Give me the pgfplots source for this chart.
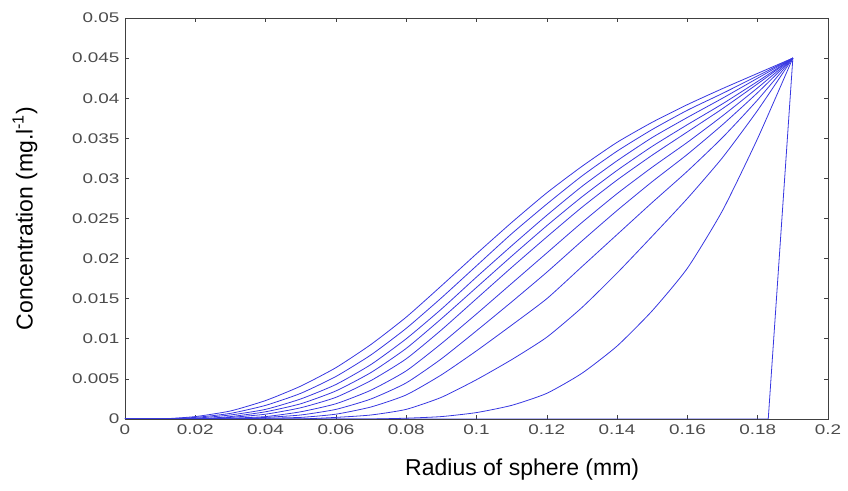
\documentclass[border=0pt]{standalone}
\usepackage{pgfplots}
\usepackage{pgfplotstable}
\pgfplotsset{compat=1.18}
\usepackage{fontspec}
\setmainfont{Liberation Sans}
\newfontfamily\tickfont[FakeStretch=1.35]{Liberation Sans}
\definecolor{lineblue}{RGB}{55,55,225}
\pgfplotstableread{
x c1 c2 c3 c4 c5 c6 c7 c8 c9 c10
0.00 0 0 0 0 0 0 0 0 0 0
0.01 0 0 0 0 0 0 0 0 0 0
0.02 0.0003 0.0002 0.0001 0 0 0 0 0 0 0
0.03 0.0010 0.0007 0.0005 0.0003 0.0002 0.0001 0 0 0 0
0.04 0.0023 0.0017 0.0012 0.0009 0.0006 0.0003 0.0002 0.0001 0 0
0.05 0.0041 0.0032 0.0025 0.0019 0.0014 0.0009 0.0005 0.0002 0 0
0.06 0.0064 0.0053 0.0043 0.0035 0.0027 0.0019 0.0012 0.0006 0.0002 0
0.07 0.0093 0.0080 0.0068 0.0058 0.0048 0.0036 0.0025 0.0015 0.0005 0
0.08 0.0127 0.0113 0.0100 0.0088 0.0075 0.0060 0.0045 0.0030 0.0012 0.0001
0.09 0.0166 0.0151 0.0137 0.0125 0.0111 0.0094 0.0075 0.0055 0.0027 0.0003
0.10 0.0206 0.0191 0.0177 0.0164 0.0150 0.0131 0.0110 0.0085 0.0049 0.0008
0.11 0.0245 0.0231 0.0216 0.0203 0.0189 0.0169 0.0146 0.0117 0.0074 0.0017
0.12 0.0282 0.0268 0.0254 0.0241 0.0227 0.0207 0.0183 0.0150 0.0102 0.0032
0.13 0.0315 0.0303 0.0290 0.0277 0.0264 0.0245 0.0222 0.0190 0.0139 0.0057
0.14 0.0345 0.0334 0.0322 0.0310 0.0298 0.0281 0.0260 0.0230 0.0182 0.0091
0.15 0.0370 0.0361 0.0351 0.0340 0.0329 0.0314 0.0296 0.0270 0.0228 0.0135
0.16 0.0392 0.0385 0.0376 0.0367 0.0358 0.0345 0.0330 0.0309 0.0275 0.0188
0.17 0.0412 0.0406 0.0400 0.0393 0.0387 0.0378 0.0367 0.0351 0.0326 0.0260
0.18 0.0431 0.0428 0.0425 0.0421 0.0418 0.0413 0.0407 0.0398 0.0385 0.0350
0.19 0.0450 0.0450 0.0450 0.0450 0.0450 0.0450 0.0450 0.0450 0.0450 0.0450
}\data
\begin{document}
\begin{tikzpicture}
\begin{axis}[
  width=703pt, height=401pt, scale only axis,
  xmin=0, xmax=0.2, ymin=0, ymax=0.05,
  scaled ticks=false,
  xtick={0,0.02,0.04,0.06,0.08,0.1,0.12,0.14,0.16,0.18,0.2},
  xticklabels={0,0.02,0.04,0.06,0.08,0.1,0.12,0.14,0.16,0.18,0.2},
  ytick={0,0.005,0.01,0.015,0.02,0.025,0.03,0.035,0.04,0.045,0.05},
  yticklabels={0,0.005,0.01,0.015,0.02,0.025,0.03,0.035,0.04,0.045,0.05},
  tick align=inside, tick pos=both, major tick length=4pt,
  axis line style={black!75, line width=0.8pt},
  tick style={black!75, line width=0.6pt},
  ticklabel style={font=\tickfont\fontsize{14}{14}\selectfont, text=black!70},
  xticklabel style={yshift=-2pt},
  yticklabel style={xshift=-2pt},
  xlabel={Radius of sphere (mm)},
  xlabel style={at={(axis description cs:0.565,-0.127)}, anchor=center, font=\fontsize{23}{23}\selectfont},
  ylabel={Concentration (mg.l\textsuperscript{-1})},
  ylabel style={at={(axis description cs:-0.1422,0.5)}, anchor=center, font=\fontsize{23}{23}\selectfont},
]
\pgfplotsinvokeforeach{1,...,10}{
  \addplot[lineblue, line width=0.8pt, smooth, tension=0.35] table[x=x, y=c#1] {\data};
}
\addplot[lineblue, line width=0.8pt] coordinates {(0,0) (0.183,0) (0.19,0.045)};
\coordinate (bl) at (rel axis cs:0,0);
\coordinate (tr) at (rel axis cs:1,1);
\end{axis}
\path ([shift={(-125pt,-72pt)}]bl) rectangle ([shift={(20pt,18pt)}]tr);
\end{tikzpicture}
\end{document}
